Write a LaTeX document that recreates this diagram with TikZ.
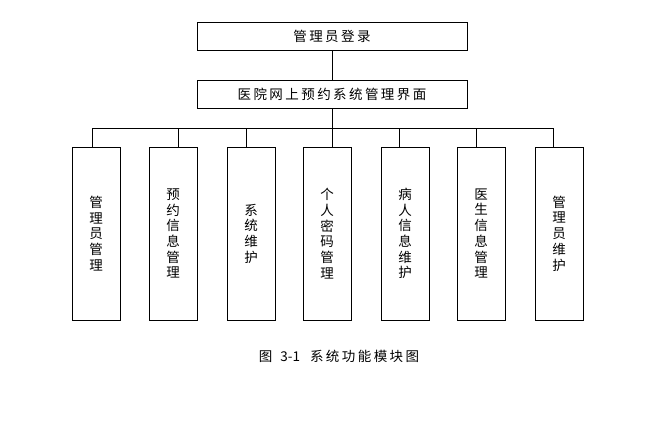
\documentclass[tikz,border=0pt]{standalone}
\usepackage{fontspec}
\usepackage{tikz}
\usetikzlibrary{arrows,shapes}
\newfontfamily\cjk{Noto Sans CJK SC}
\newfontfamily\cjkwide[LetterSpace=18]{Noto Sans CJK SC}
\tikzstyle{titlebox}=[draw,line width=1pt,minimum width=270pt,minimum height=28pt,inner sep=0pt,font=\cjkwide\fontsize{13.5}{15}\selectfont]
\tikzstyle{module}=[draw,line width=1pt,minimum width=48pt,minimum height=173pt,inner sep=0pt,align=center,font=\cjk\fontsize{13.5}{15.7}\selectfont]
\tikzstyle{edge} = [draw,line width=1pt,-]

\begin{document}
\begin{tikzpicture}[x=1pt,y=-1pt]
    \useasboundingbox (0,0) rectangle (663,439);
    % The two boxes on top
    \node[titlebox] (login) at (332,36.5) {管理员登录};
    \node[titlebox] (main) at (332,94) {医院网上预约系统管理界面};

    % Then the module boxes
    \foreach \pos/\name/\txt in {{(96,233.5)/m1/管\\理\\员\\管\\理}, {(173,233.5)/m2/预\\约\\信\\息\\管\\理}, {(251,233.5)/m3/系\\统\\维\\护}, {(327,233.5)/m4/个\\人\\密\\码\\管\\理}, {(405,233.5)/m5/病\\人\\信\\息\\维\\护}, {(481,233.5)/m6/医\\生\\信\\息\\管\\理}, {(559,233.5)/m7/管\\理\\员\\维\\护}}
        \node[module] (\name) at \pos {\txt};

    % Points on the bus line
    \foreach \x/\name in {92/b1, 178/b2, 246/b3, 332/b4, 399/b5, 476/b6, 553/b7}
        \coordinate (\name) at (\x,128);

    % Connect boxes with the bus
    \path[edge] (login) -- (main);
    \path[edge] (main) -- (b4);
    \path[edge] (b1) -- (b7);
    \foreach \source/ \dest in {b1/m1, b2/m2, b3/m3, b4/m4, b5/m5, b6/m6, b7/m7}
        \path[edge] (\source) -- (\source |- \dest.north);

    % Caption
    \node[font=\cjkwide\fontsize{13.5}{15}\selectfont] (caption) at (339,356) {图\hspace{8pt}{\cjk 3-1}\hspace{10pt}系统功能模块图};
\end{tikzpicture}
\end{document}
